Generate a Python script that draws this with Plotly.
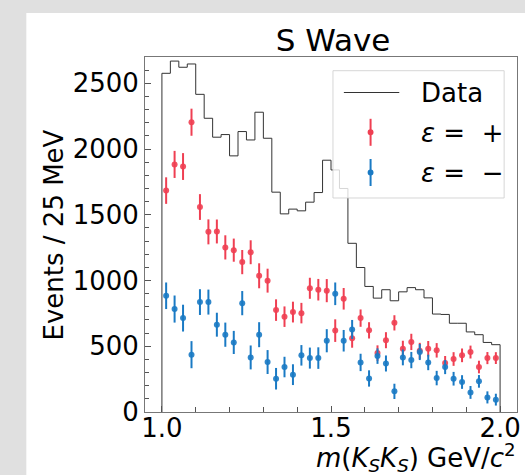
import numpy as np
import plotly.graph_objects as go

# ---- data ----
bin_lo, bin_hi, n_bins = 1.0, 2.0, 40
data_counts = [2576, 2669, 2622, 2647, 2416, 2234, 2090, 2110, 1948, 2133,
               2069, 2280, 2082, 1672, 1507, 1543, 1530, 1596, 1669, 1915,
               1841, 1700, 1283, 1099, 955, 866, 930, 846, 914, 946,
               930, 868, 745, 742, 675, 675, 609, 588, 529, 512]
plus_vals = [1684, 1883, 1867, 2204, 1559, 1370, 1373, 1252, 1231, 1140,
             1215, 1036, 999, 775, 725, 760, 752, 941, 930, 923,
             619, 861, 561, 714, 621, 448, 546, 678, 482, 533,
             465, 481, 469, 372, 403, 431, 456, 342, 410, 410]
minus_vals = [884, 783, 714, 436, 836, 836, 664, 588, 529, 828,
              415, 588, 380, 253, 342, 284, 431, 410, 410, 542,
              899, 542, 628, 377, 255, 425, 369, 157, 415, 395,
              456, 377, 258, 342, 253, 228, 149, 233, 111, 94]
errs = [101, 103, 102, 103, 98, 95, 91, 92, 88, 92,
        91, 95, 91, 82, 78, 79, 78, 80, 82, 88,
        86, 82, 72, 66, 62, 59, 61, 58, 60, 62,
        61, 59, 55, 54, 52, 52, 49, 48, 46, 45]
x_ticks = [1.0, 1.5, 2.0]
x_tick_text = ["1.0", "1.5", "2.0"]
y_ticks = [0, 500, 1000, 1500, 2000, 2500]
legend_labels = ["Data", "<i>ε</i> =\u00a0 +", "<i>ε</i> =\u00a0 −"]

edges = np.linspace(bin_lo, bin_hi, n_bins + 1)
centers = 0.5 * (edges[:-1] + edges[1:])

FONT = "DejaVu Sans"
RED = "#ef3f52"
BLUE = "#1a7ac4"
HIST = "#333333"

# plot area in pixels
L, R, T, B = 145, 521, 57, 412
W, H = R - L, B - T


def px(x):
    return (x - L) / W


def py(y):
    return (B - y) / H


step_x = [edges[0]] + list(edges[:-1]) + [edges[-1], edges[-1]]
step_y = [0] + list(data_counts) + [data_counts[-1], 0]

fig = go.Figure()
fig.add_trace(go.Scatter(x=step_x, y=step_y, mode="lines", line_shape="hv",
                         line=dict(color=HIST, width=1), name="Data",
                         showlegend=False))
fig.add_trace(go.Scatter(x=centers, y=plus_vals, mode="markers", name="ε = +",
                         marker=dict(color=RED, size=6, opacity=0.9), showlegend=False,
                         error_y=dict(type="data", array=errs, color=RED, thickness=2, width=0)))
fig.add_trace(go.Scatter(x=centers, y=minus_vals, mode="markers", name="ε = −",
                         marker=dict(color=BLUE, size=6, opacity=0.9), showlegend=False,
                         error_y=dict(type="data", array=errs, color=BLUE, thickness=2, width=0)))

axis_common = dict(showgrid=False, zeroline=False, showline=True, linecolor="#777777",
                   linewidth=1, mirror=True, ticks="inside", tickcolor="#555555",
                   ticklen=6, tickwidth=1, tickfont=dict(family=FONT, size=26, color="black"))

fig.update_xaxes(range=[0.95, 2.05], tickvals=x_ticks, ticktext=x_tick_text,
                 ticklabelstandoff=-7,
                 minor=dict(dtick=0.1, tick0=1.0, ticks="inside", ticklen=5, tickcolor="#555555"),
                 **axis_common)
fig.update_yaxes(range=[0, 2700], tickvals=y_ticks,
                 minor=dict(dtick=100, ticks="inside", ticklen=4, tickcolor="#555555"),
                 **axis_common)

shapes = [dict(type="rect", xref="paper", yref="paper", x0=-0.319, x1=1.1, y0=-0.4, y1=1.124,
               fillcolor="white", line=dict(width=0), layer="below")]
# manual legend (matplotlib-style)
shapes.append(dict(type="rect", xref="paper", yref="paper", x0=px(335), x1=px(508),
                   y0=py(198), y1=py(70.7), fillcolor="rgba(255,255,255,0.8)",
                   line=dict(color="rgba(204,204,204,0.8)", width=1), layer="above"))
shapes.append(dict(type="line", xref="paper", yref="paper", x0=px(346), x1=px(402),
                   y0=py(92.5), y1=py(92.5), line=dict(color=HIST, width=1), layer="above"))
for yc, col in [(132.3, RED), (172.5, BLUE)]:
    shapes.append(dict(type="line", xref="paper", yref="paper", x0=px(373), x1=px(373),
                       y0=py(yc - 13.5), y1=py(yc + 13.5), line=dict(color=col, width=2),
                       layer="above"))
    shapes.append(dict(type="circle", xref="paper", yref="paper", x0=px(370), x1=px(376),
                       y0=py(yc + 3), y1=py(yc - 3), fillcolor=col, line=dict(width=0),
                       layer="above"))

annotations = [
    dict(text="Events / 25 MeV", xref="paper", yref="paper", x=px(53), y=0.5,
         textangle=-90, showarrow=False, xanchor="center", yanchor="middle",
         font=dict(family=FONT, size=26, color="black")),
    dict(text="<i>m</i>(<i>K<sub>S</sub>K<sub>S</sub></i>) GeV/<i>c</i><sup>2</sup>",
         xref="paper", yref="paper", x=px(522), y=py(457.5), showarrow=False,
         xanchor="right", yanchor="middle", font=dict(family=FONT, size=26, color="black")),
]
for yc, lab in zip([93, 132.5, 172.5], [legend_labels[0], legend_labels[1], legend_labels[2]]):
    annotations.append(dict(text=lab, xref="paper", yref="paper", x=px(422), y=py(yc),
                            showarrow=False, xanchor="left", yanchor="middle",
                            font=dict(family=FONT, size=26, color="black")))

fig.update_layout(
    width=525, height=475,
    margin=dict(l=L, r=525 - R, t=T, b=475 - B),
    paper_bgcolor="#e0e0e0", plot_bgcolor="white",
    font=dict(family=FONT, color="black"),
    title=dict(text="S Wave", x=(333 / 525), xanchor="center", y=1 - 40 / 475, yanchor="middle",
               font=dict(family=FONT, size=31, color="black")),
    showlegend=False,
    shapes=shapes,
    annotations=annotations,
)

fig.write_html("out.html")
